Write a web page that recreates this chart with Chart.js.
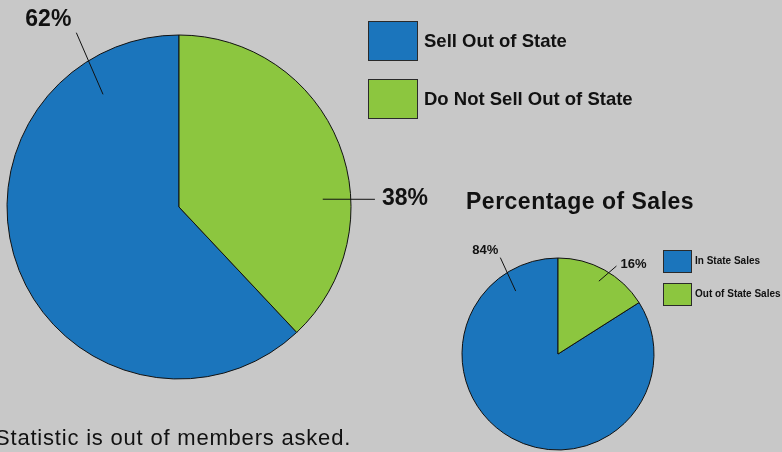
<!DOCTYPE html>
<html>
<head>
<meta charset="utf-8">
<script src="https://cdn.jsdelivr.net/npm/chart.js@4.4.1/dist/chart.umd.min.js"></script>
<style>
  html, body { margin: 0; padding: 0; }
  body { width: 782px; height: 452px; background: #c8c8c8; position: relative; overflow: hidden;
         font-family: "Liberation Sans", Arial, Helvetica, sans-serif; color: #111; }
  canvas.full { position: absolute; left: 0; top: 0; }
  .txt { position: absolute; white-space: nowrap; line-height: 1; }
  .box { position: absolute; box-sizing: border-box; border: 1px solid #2a2a2a; }
</style>
</head>
<body>
<canvas id="bigPie" class="full" width="782" height="452"></canvas>
<canvas id="smallPie" class="full" width="782" height="452"></canvas>
<div id="legends"></div>
<div class="txt" style="left:466px; top:190px; font-size:23px; font-weight:bold; letter-spacing:0.5px;">Percentage of Sales</div>
<div class="txt" style="left:-5px; top:427px; font-size:22px; letter-spacing:0.8px;">Statistic is out of members asked.</div>

<script>
const BLUE = '#1b75bc';
const GREEN = '#8cc63f';

// big pie
const bigLabels = ['Sell Out of State', 'Do Not Sell Out of State'];
const bigValues = [62, 38];

// small pie
const smallLabels = ['In State Sales', 'Out of State Sales'];
const smallValues = [84, 16];

const colors = [BLUE, GREEN];

// leader lines: angle in deg from top (clockwise), radius as fraction of pie radius
const bigCallouts = [
  { a1: 326, r1: 0.79, a2: 329.5, r2: 1.176, dx: -5, dy: -7, align: 'right' },
  { a1: 86.9, r1: 0.837, a2: 87.75, r2: 1.14, dx: 7, dy: 6, align: 'left' }
];
const smallCallouts = [
  { a1: 326.1, r1: 0.79, a2: 329.1, r2: 1.17, dx: -2, dy: -4, align: 'right' },
  { a1: 29.3, r1: 0.87, a2: 33.6, r2: 1.10, dx: 4, dy: 2, align: 'left' }
];

const calloutPlugin = {
  id: 'callouts',
  afterDatasetsDraw(chart, args, opts) {
    const ctx = chart.ctx;
    const arc = chart.getDatasetMeta(0).data[0];
    const { x: cx, y: cy, outerRadius: R } = arc.getProps(['x', 'y', 'outerRadius'], true);
    const values = chart.data.datasets[0].data;
    const pt = (a, r) => {
      const t = a * Math.PI / 180;
      return [cx + r * R * Math.sin(t), cy - r * R * Math.cos(t)];
    };
    ctx.save();
    ctx.strokeStyle = '#111';
    ctx.lineWidth = 1;
    ctx.fillStyle = '#111';
    ctx.font = 'bold ' + opts.fontSize + 'px "Liberation Sans", Arial, sans-serif';
    ctx.textBaseline = 'alphabetic';
    opts.items.forEach((c, i) => {
      const p1 = pt(c.a1, c.r1);
      const p2 = pt(c.a2, c.r2);
      ctx.beginPath();
      ctx.moveTo(p1[0], p1[1]);
      ctx.lineTo(p2[0], p2[1]);
      ctx.stroke();
      ctx.textAlign = c.align;
      ctx.fillText(values[i] + '%', p2[0] + c.dx, p2[1] + c.dy);
    });
    ctx.restore();
  }
};

function makePie(id, labels, values, radius, padding, callouts, fontSize) {
  const total = values.reduce((s, v) => s + v, 0);
  return new Chart(document.getElementById(id), {
    type: 'pie',
    data: {
      labels: labels,
      datasets: [{
        data: values,
        backgroundColor: colors,
        borderColor: '#111',
        borderWidth: 1,
        hoverOffset: 0,
        offset: 0
      }]
    },
    options: {
      responsive: false,
      animation: false,
      events: [],
      radius: radius,
      // first slice (blue) starts where the second one ends, so green sits right of 12 o'clock
      rotation: values[1] / total * 360,
      layout: { padding: padding },
      plugins: {
        legend: { display: false },
        tooltip: { enabled: false },
        callouts: { items: callouts, fontSize: fontSize }
      }
    },
    plugins: [calloutPlugin]
  });
}

makePie('bigPie', bigLabels, bigValues, 172, { left: 7, right: 431, top: 35, bottom: 73 }, bigCallouts, 23);
makePie('smallPie', smallLabels, smallValues, 96, { left: 462, right: 128, top: 258, bottom: 2 }, smallCallouts, 13);

// html legends built from the label arrays
function legend(labels, x, y0, step, bw, bh, tx, fs, textTop) {
  const host = document.getElementById('legends');
  labels.forEach((lab, i) => {
    const b = document.createElement('div');
    b.className = 'box';
    b.style.cssText = `left:${x}px; top:${y0 + i * step}px; width:${bw}px; height:${bh}px; background:${colors[i]};`;
    host.appendChild(b);
    const t = document.createElement('div');
    t.className = 'txt';
    t.textContent = lab;
    t.style.cssText = `left:${tx}px; top:${y0 + i * step + textTop}px; font-size:${fs}px; font-weight:bold;`;
    host.appendChild(t);
  });
}
legend(bigLabels, 368, 21, 58, 50, 40, 424, 18.5, 10.5);
legend(smallLabels, 663, 250, 33, 29, 23, 695, 10, 5.8);
</script>
</body>
</html>
